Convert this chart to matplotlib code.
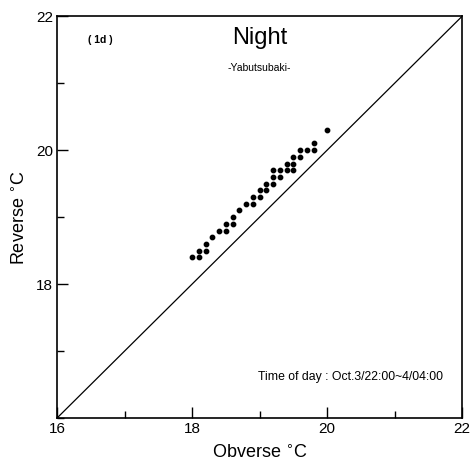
import matplotlib.pyplot as plt
import numpy as np

plt.rcParams['font.family'] = ['Liberation Sans', 'DejaVu Sans']

# readings: obverse (x) vs reverse (y) temperature, deg C
obverse = [18.0, 18.1, 18.1, 18.2, 18.2, 18.3, 18.4, 18.5, 18.5, 18.6, 18.6, 18.7,
           18.8, 18.9, 18.9, 19.0, 19.0, 19.1, 19.1, 19.2, 19.2, 19.2, 19.3, 19.3,
           19.4, 19.4, 19.5, 19.5, 19.5, 19.6, 19.6, 19.7, 19.8, 19.8, 20.0]
reverse = [18.4, 18.4, 18.5, 18.5, 18.6, 18.7, 18.8, 18.8, 18.9, 18.9, 19.0, 19.1,
           19.2, 19.2, 19.3, 19.3, 19.4, 19.4, 19.5, 19.5, 19.6, 19.7, 19.7, 19.6,
           19.7, 19.8, 19.7, 19.8, 19.9, 19.9, 20.0, 20.0, 20.0, 20.1, 20.3]
lim = [16, 22]
major = [18, 20, 22]
minor = [17, 19, 21]

fig = plt.figure(figsize=(4.75, 4.63), dpi=100)
ax = fig.add_axes([0.12, 0.097, 0.853, 0.868])

ax.plot(lim, lim, color='black', linewidth=0.9)
ax.scatter(obverse, reverse, s=10, color='black', zorder=3)

ax.set_xlim(lim)
ax.set_ylim(lim)
ax.set_xticks([16] + major)
ax.set_yticks(major)
ax.set_xticks(minor, minor=True)
ax.set_yticks(minor + [16], minor=True)
ax.tick_params(which='major', direction='in', length=8, width=1, labelsize=11, pad=3)
ax.tick_params(which='minor', direction='in', length=5, width=1)
for s in ax.spines.values():
    s.set_linewidth(1.2)

ax.set_xlabel('Obverse $^{\\circ}$C', fontsize=13, labelpad=6)
ax.set_ylabel('Reverse $^{\\circ}$C', fontsize=13, labelpad=5)

ax.text(0.5, 0.947, 'Night', transform=ax.transAxes, ha='center', va='center', fontsize=17)
ax.text(0.5, 0.87, '-Yabutsubaki-', transform=ax.transAxes, ha='center', va='center', fontsize=7.5)
ax.text(0.077, 0.94, '( 1d )', transform=ax.transAxes, ha='left', va='center', fontsize=7.5, weight='bold')
ax.text(0.953, 0.102, 'Time of day : Oct.3/22:00~4/04:00', transform=ax.transAxes,
        ha='right', va='center', fontsize=8.8)

fig.savefig('out.png', dpi=100)
